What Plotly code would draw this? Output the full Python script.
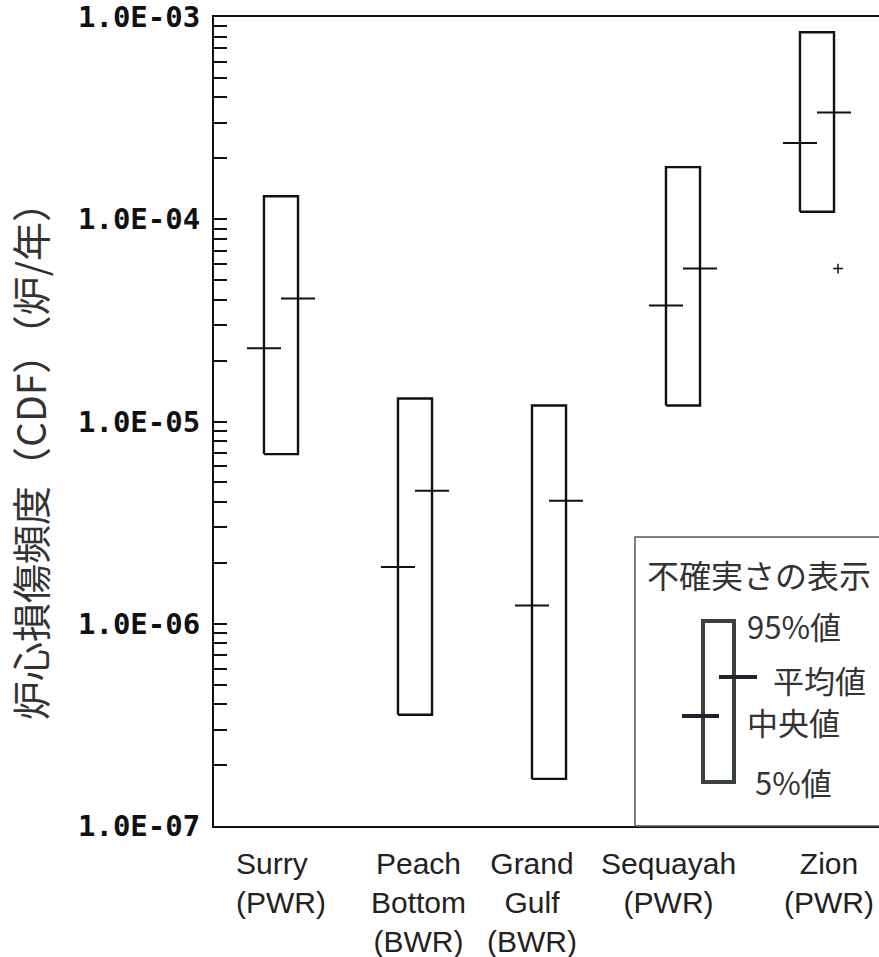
import plotly.graph_objects as go

# ---- data ----
plants = ["Surry", "Peach<br>Bottom", "Grand<br>Gulf", "Sequayah", "Zion"]
reactor_types = ["(PWR)", "(BWR)", "(BWR)", "(PWR)", "(PWR)"]
p95 = [1.30e-4, 1.30e-5, 1.20e-5, 1.81e-4, 8.40e-4]
p05 = [6.9e-6, 3.55e-7, 1.71e-7, 1.20e-5, 1.09e-4]
median = [2.30e-5, 1.91e-6, 1.23e-6, 3.75e-5, 2.38e-4]
mean = [4.06e-5, 4.55e-6, 4.06e-6, 5.71e-5, 3.37e-4]
zion_stray = 5.7e-5
y_decades = [-7, -6, -5, -4, -3]
y_tick_labels = ["1.0E-07", "1.0E-06", "1.0E-05", "1.0E-04", "1.0E-03"]

# ---- style constants ----
W, H = 879, 957
L, R, T, B = 214, 0, 17, 131
HW = 0.127           # half box width (x units)
LABEL_XSHIFT = [0, 3, -17, -15, 12]
LABEL_ALIGN = ["left", "center", "center", "center", "center"]
PW = W - L - R
PH = H - T - B


def px(xp):
    return (xp - L) / PW


def py(yp):
    return (H - B - yp) / PH


fig = go.Figure()

# boxes 5%-95%
bx, by = [], []
for i in range(len(plants)):
    bx += [i - HW, i + HW, i + HW, i - HW, i - HW, None]
    by += [p05[i], p05[i], p95[i], p95[i], p05[i], None]
fig.add_trace(go.Scatter(x=bx, y=by, mode="lines",
                         line=dict(color="#111111", width=2.4),
                         hoverinfo="skip", showlegend=False))

# median ticks (centered on left edge) and mean ticks (centered on right edge)
mx, my = [], []
for i in range(len(plants)):
    mx += [i - 2 * HW, i, None]
    my += [median[i], median[i], None]
    mx += [i, i + 2 * HW, None]
    my += [mean[i], mean[i], None]
fig.add_trace(go.Scatter(x=mx, y=my, mode="lines",
                         line=dict(color="#111111", width=2),
                         hoverinfo="skip", showlegend=False))

# small stray cross near Zion
fig.add_trace(go.Scatter(x=[4 + 21 / 134], y=[zion_stray], mode="markers",
                         marker=dict(symbol="cross-thin", size=7,
                                     line=dict(color="#111111", width=1.5)),
                         hoverinfo="skip", showlegend=False))

# y ticks: decades labelled, minor 2..9 unlabelled
tickvals, ticktext = [], []
for k, d in enumerate(y_decades):
    tickvals.append(10.0 ** d)
    ticktext.append(y_tick_labels[k])
    if d < y_decades[-1]:
        for m in range(2, 10):
            tickvals.append(m * 10.0 ** d)
            ticktext.append("")

annotations = []
# category labels
for i in range(len(plants)):
    annotations.append(dict(
        x=i, y=py(845), xref="x", yref="paper", xanchor="center", yanchor="top",
        xshift=LABEL_XSHIFT[i], showarrow=False, align=LABEL_ALIGN[i],
        text=plants[i] + "<br>" + reactor_types[i],
        font=dict(family="Liberation Sans, Arial, sans-serif", size=30, color="#222222")))

# y axis title
annotations.append(dict(
    x=px(29), y=py(452), xref="paper", yref="paper", xanchor="center", yanchor="middle",
    textangle=-90, showarrow=False, text="炉心損傷頻度（CDF）（炉/年）",
    font=dict(family="Noto Sans CJK JP", size=39, color="#333333")))

# legend texts
leg_font = dict(family="Noto Sans CJK JP", size=31, color="#333333")
for txt, xl, yc, sz in [("不確実さの表示", 645, 574, 32),
                        ("95%値", 745, 625, 31),
                        ("平均値", 771, 679, 31),
                        ("中央値", 745, 721, 31),
                        ("5%値", 753, 781, 31)]:
    f = dict(leg_font)
    f["size"] = sz
    annotations.append(dict(x=px(xl), y=py(yc), xref="paper", yref="paper",
                            xanchor="left", yanchor="middle", showarrow=False,
                            text=txt, font=f))

shapes = [
    # legend frame
    dict(type="rect", xref="paper", yref="paper", x0=px(635), x1=px(885),
         y0=py(826), y1=py(537), line=dict(color="#555555", width=1.5)),
    # legend glyph box
    dict(type="rect", xref="paper", yref="paper", x0=px(703), x1=px(734),
         y0=py(782), y1=py(621), line=dict(color="#3b423b", width=4)),
    # legend mean tick
    dict(type="line", xref="paper", yref="paper", x0=px(719), x1=px(757),
         y0=py(677), y1=py(677), line=dict(color="#22222e", width=4)),
    # legend median tick
    dict(type="line", xref="paper", yref="paper", x0=px(682), x1=px(719),
         y0=py(716), y1=py(716), line=dict(color="#22222e", width=4)),
]

fig.update_layout(
    width=W, height=H,
    margin=dict(l=L, r=R, t=T, b=B, pad=0),
    paper_bgcolor="white", plot_bgcolor="white",
    showlegend=False,
    annotations=annotations,
    shapes=shapes,
    xaxis=dict(range=[-0.5, -0.5 + PW / 134], showticklabels=False, ticks="",
               showgrid=False, zeroline=False, showline=True, mirror=True,
               linecolor="#111111", linewidth=2.2, fixedrange=True),
    yaxis=dict(type="log", range=[-7, -3], tickmode="array",
               tickvals=tickvals, ticktext=ticktext,
               ticks="inside", ticklen=13, tickwidth=1.5, tickcolor="#111111",
               ticklabelstandoff=6,
               tickfont=dict(family="DejaVu Sans Mono", size=29, color="#111111",
                             weight="bold"),
               showgrid=False, zeroline=False, showline=True,
               linecolor="#111111", linewidth=2, fixedrange=True),
)

fig.write_html(
    "out.html",
    config={"displayModeBar": False},
    post_script="document.body.style.margin='0';document.body.style.overflow='hidden';",
)
